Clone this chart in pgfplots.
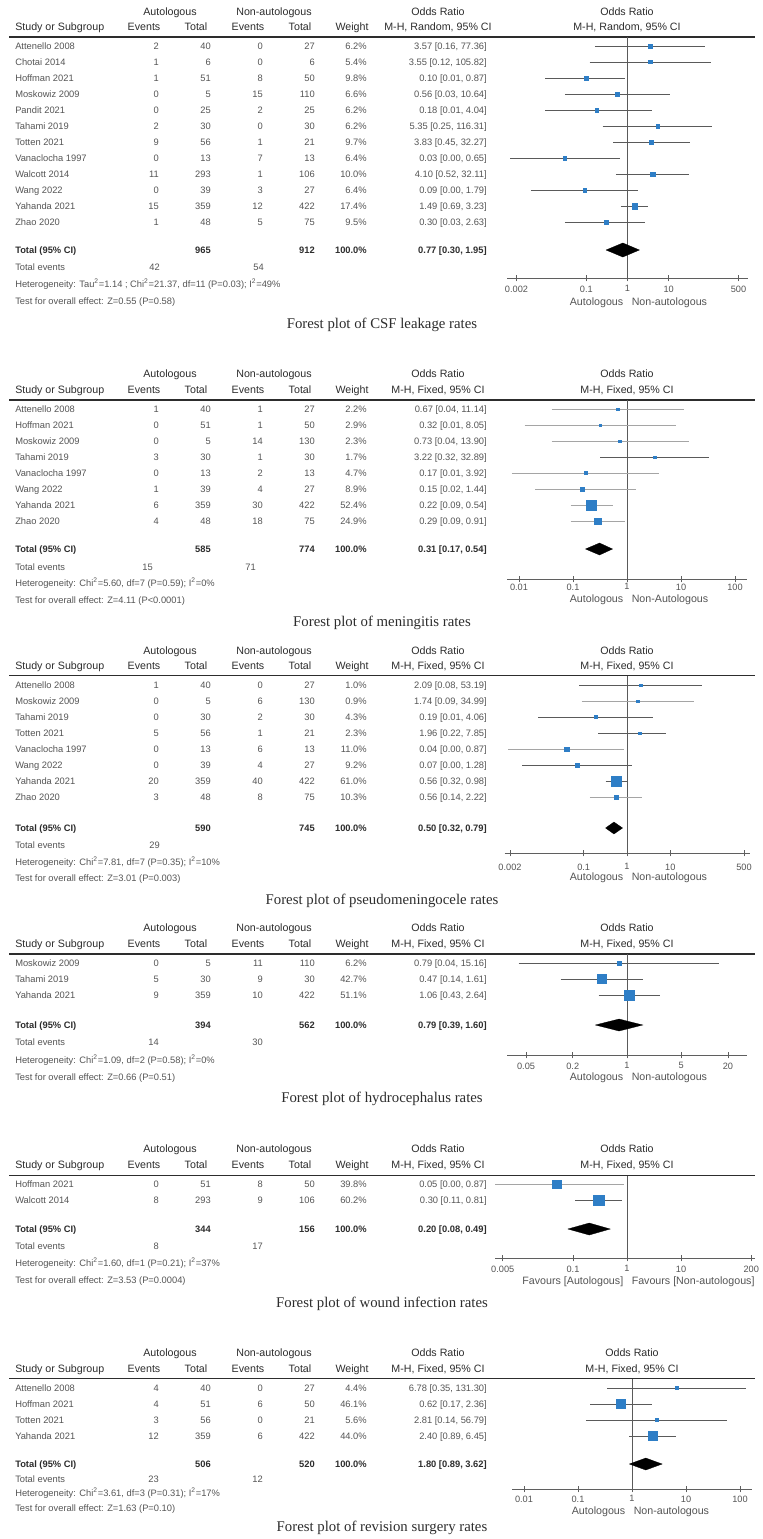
\documentclass[border=0pt]{standalone}
\usepackage{pgfplots}
\usepackage{pgfplotstable}
\pgfplotsset{compat=1.18}
\usepackage{fontspec}
\setmainfont{Liberation Sans}
\newfontfamily\capfont{Liberation Serif}
\definecolor{txt}{RGB}{85,85,85}
\definecolor{hdr}{RGB}{45,45,45}
\definecolor{sq}{RGB}{46,126,198}
\definecolor{cid}{RGB}{90,90,90}
\definecolor{cil}{RGB}{165,165,165}
\definecolor{axc}{RGB}{95,95,95}
\newcommand\fR{\fontsize{7}{8}\selectfont}
\newcommand\fH{\fontsize{8}{9}\selectfont}
\newcommand\fT{\fontsize{6.9}{8}\selectfont}
\newcommand\fC{\capfont\fontsize{11.1}{13}\selectfont}

% ---------------- data: OR, row, weight ----------------
\pgfplotstableread{
or y w
3.57 -1 6.2
3.55 -2 5.4
0.10 -3 9.8
0.56 -4 6.6
0.18 -5 6.2
5.35 -6 6.2
3.83 -7 9.7
0.03 -8 6.4
4.10 -9 10.0
0.09 -10 6.4
1.49 -11 17.4
0.30 -12 9.5
}\tA
\pgfplotstableread{
or y w
0.67 -1 2.2
0.32 -2 2.9
0.73 -3 2.3
3.22 -4 1.7
0.17 -5 4.7
0.15 -6 8.9
0.22 -7 52.4
0.29 -8 24.9
}\tB
\pgfplotstableread{
or y w
2.09 -1 1.0
1.74 -2 0.9
0.19 -3 4.3
1.96 -4 2.3
0.04 -5 11.0
0.07 -6 9.2
0.56 -7 61.0
0.56 -8 10.3
}\tC
\pgfplotstableread{
or y w
0.79 -1 6.2
0.47 -2 42.7
1.06 -3 51.1
}\tD
\pgfplotstableread{
or y w
0.05 -1 39.8
0.30 -2 60.2
}\tE
\pgfplotstableread{
or y w
6.78 -1 4.4
0.62 -2 46.1
2.81 -3 5.6
2.40 -4 44.0
}\tF

\pgfplotsset{
  fpstyle/.style={
    scale only axis,
    axis x line*=bottom, axis y line=none, ytick=\empty,
    axis line style={draw=axc, line width=0.6pt},
    tick align=center, major tick length=5pt, xminorticks=false,
    every tick/.style={draw=axc, line width=0.6pt},
    xticklabel style={font=\fT, text=txt, inner sep=0pt, anchor=north, yshift=#1},
  },
  vl/.style={draw=cid, line width=0.6pt},
  ci/.style={draw=cid, line width=0.7pt},
  cl/.style={draw=cil, line width=0.7pt},
  dia/.style={fill=black, draw=black, line width=0.2pt},
  sqs/.style={only marks, scatter, mark=square*,
    point meta=explicit symbolic,
    scatter/@pre marker code/.code={%
      \pgfmathsetmacro\ms{max(2.6,1.35*sqrt(\pgfplotspointmeta))*0.375}%
      \scope[mark size=\ms pt, draw=sq, fill=sq, line width=0.2pt]},
    scatter/@post marker code/.code={\endscope}},
}

\tikzset{
  R/.style={font=\fR, text=txt, inner sep=0pt},
  B/.style={font=\fR\bfseries, text=hdr, inner sep=0pt},
  H/.style={font=\fH, text=hdr, inner sep=0pt},
  F/.style={font=\fH, text=txt, inner sep=0pt},
  C/.style={font=\fC, text=hdr, inner sep=0pt},
}

\newcommand\Hdr[4]{%
  \node[H,anchor=base] at (170,{#1+3.8}) {Autologous};
  \node[H,anchor=base] at (274,{#1+3.8}) {Non-autologous};
  \node[H,anchor=base] at (438,{#1+3.8}) {Odds Ratio};
  \node[H,anchor=base] at (#4,{#1+3.8}) {Odds Ratio};
  \node[H,anchor=base west] at (15,{#2+3.8}) {Study or Subgroup};
  \node[H,anchor=base] at (144,{#2+3.8}) {Events};
  \node[H,anchor=base] at (196,{#2+3.8}) {Total};
  \node[H,anchor=base] at (248,{#2+3.8}) {Events};
  \node[H,anchor=base] at (300,{#2+3.8}) {Total};
  \node[H,anchor=base] at (352,{#2+3.8}) {Weight};
  \node[H,anchor=base] at (438,{#2+3.8}) {#3};
  \node[H,anchor=base] at (#4,{#2+3.8}) {#3};
}
\newcommand\St[8]{%
  \node[R,anchor=base west] at (15,{#1+3.35}) {#2};
  \node[R,anchor=base east] at (159,{#1+3.35}) {#3};
  \node[R,anchor=base east] at (211,{#1+3.35}) {#4};
  \node[R,anchor=base east] at (263,{#1+3.35}) {#5};
  \node[R,anchor=base east] at (315,{#1+3.35}) {#6};
  \node[R,anchor=base east] at (367,{#1+3.35}) {#7\%};
  \node[R,anchor=base east] at (487,{#1+3.35}) {#8};
}
\newcommand\Tot[4]{%
  \node[B,anchor=base west] at (15,{#1+3.35}) {Total (95\% CI)};
  \node[B,anchor=base east] at (211,{#1+3.35}) {#2};
  \node[B,anchor=base east] at (315,{#1+3.35}) {#3};
  \node[B,anchor=base east] at (367,{#1+3.35}) {100.0\%};
  \node[B,anchor=base east] at (487,{#1+3.35}) {#4};
}
\newcommand\Tev[5]{%
  \node[R,anchor=base west] at (15,{#1+3.35}) {Total events};
  \node[R,anchor=base east] at (#4,{#1+3.35}) {#2};
  \node[R,anchor=base east] at (#5,{#1+3.35}) {#3};
}
\newcommand\Ln[2]{\node[R,anchor=base west] at (15,{#1+3.35}) {#2};}
\newcommand\Fav[4]{%
  \node[F,anchor=base east] at ({#2-3.5},{#1+3.8}) {#3};
  \node[F,anchor=base west] at ({#2+4.5},{#1+3.8}) {#4};
}
\newcommand\Cap[2]{\node[C,anchor=base] at (382,{#1+4.9}) {#2};}
\newcommand\HL[1]{\draw[line width=1pt,hdr] (9,#1)--(755,#1);}
\newcommand\sq{\textsuperscript{2}}

\begin{document}
\begin{tikzpicture}
\begin{scope}[x=0.75pt,y=-0.75pt]
\useasboundingbox (0,0) rectangle (763,1539);
\fill[white] (0,0) rectangle (763,1539);

% ===== Panel 1 =====
\Hdr{12}{27}{M-H, Random, 95\% CI}{627}
\HL{37}
\St{46}{Attenello 2008}{2}{40}{0}{27}{6.2}{3.57 [0.16, 77.36]}
\St{62}{Chotai 2014}{1}{6}{0}{6}{5.4}{3.55 [0.12, 105.82]}
\St{78}{Hoffman 2021}{1}{51}{8}{50}{9.8}{0.10 [0.01, 0.87]}
\St{94}{Moskowiz 2009}{0}{5}{15}{110}{6.6}{0.56 [0.03, 10.64]}
\St{110}{Pandit 2021}{0}{25}{2}{25}{6.2}{0.18 [0.01, 4.04]}
\St{126}{Tahami 2019}{2}{30}{0}{30}{6.2}{5.35 [0.25, 116.31]}
\St{142}{Totten 2021}{9}{56}{1}{21}{9.7}{3.83 [0.45, 32.27]}
\St{158}{Vanaclocha 1997}{0}{13}{7}{13}{6.4}{0.03 [0.00, 0.65]}
\St{174}{Walcott 2014}{11}{293}{1}{106}{10.0}{4.10 [0.52, 32.11]}
\St{190}{Wang 2022}{0}{39}{3}{27}{6.4}{0.09 [0.00, 1.79]}
\St{206}{Yahanda 2021}{15}{359}{12}{422}{17.4}{1.49 [0.69, 3.23]}
\St{222}{Zhao 2020}{1}{48}{5}{75}{9.5}{0.30 [0.03, 2.63]}
\Tot{250}{965}{912}{0.77 [0.30, 1.95]}
\Tev{267}{42}{54}{160}{264}
\Ln{284}{Heterogeneity: Tau\sq=1.14 ; Chi\sq=21.37, df=11 (P=0.03); I\sq=49\%}
\Ln{301}{Test for overall effect: Z=0.55 (P=0.58)}
\Fav{302}{627}{Autologous}{Non-autologous}
\Cap{324}{Forest plot of CSF leakage rates}

% ===== Panel 2 =====
\Hdr{374}{390}{M-H, Fixed, 95\% CI}{627}
\HL{400}
\St{409}{Attenello 2008}{1}{40}{1}{27}{2.2}{0.67 [0.04, 11.14]}
\St{425}{Hoffman 2021}{0}{51}{1}{50}{2.9}{0.32 [0.01, 8.05]}
\St{441}{Moskowiz 2009}{0}{5}{14}{130}{2.3}{0.73 [0.04, 13.90]}
\St{457}{Tahami 2019}{3}{30}{1}{30}{1.7}{3.22 [0.32, 32.89]}
\St{473}{Vanaclocha 1997}{0}{13}{2}{13}{4.7}{0.17 [0.01, 3.92]}
\St{489}{Wang 2022}{1}{39}{4}{27}{8.9}{0.15 [0.02, 1.44]}
\St{505}{Yahanda 2021}{6}{359}{30}{422}{52.4}{0.22 [0.09, 0.54]}
\St{521}{Zhao 2020}{4}{48}{18}{75}{24.9}{0.29 [0.09, 0.91]}
\Tot{549}{585}{774}{0.31 [0.17, 0.54]}
\Tev{567}{15}{71}{153}{256}
\Ln{583}{Heterogeneity: Chi\sq=5.60, df=7 (P=0.59); I\sq=0\%}
\Ln{600}{Test for overall effect: Z=4.11 (P<0.0001)}
\Fav{599}{627}{Autologous}{Non-Autologous}
\Cap{622}{Forest plot of meningitis rates}

% ===== Panel 3 =====
\Hdr{651}{666}{M-H, Fixed, 95\% CI}{627}
\HL{675.5}
\St{685}{Attenello 2008}{1}{40}{0}{27}{1.0}{2.09 [0.08, 53.19]}
\St{701}{Moskowiz 2009}{0}{5}{6}{130}{0.9}{1.74 [0.09, 34.99]}
\St{717}{Tahami 2019}{0}{30}{2}{30}{4.3}{0.19 [0.01, 4.06]}
\St{733}{Totten 2021}{5}{56}{1}{21}{2.3}{1.96 [0.22, 7.85]}
\St{749}{Vanaclocha 1997}{0}{13}{6}{13}{11.0}{0.04 [0.00, 0.87]}
\St{765}{Wang 2022}{0}{39}{4}{27}{9.2}{0.07 [0.00, 1.28]}
\St{781}{Yahanda 2021}{20}{359}{40}{422}{61.0}{0.56 [0.32, 0.98]}
\St{797}{Zhao 2020}{3}{48}{8}{75}{10.3}{0.56 [0.14, 2.22]}
\Tot{828}{590}{745}{0.50 [0.32, 0.79]}
\Tev{845}{29}{}{160}{263}
\Ln{862}{Heterogeneity: Chi\sq=7.81, df=7 (P=0.35); I\sq=10\%}
\Ln{878}{Test for overall effect: Z=3.01 (P=0.003)}
\Fav{877}{627}{Autologous}{Non-autologous}
\Cap{900}{Forest plot of pseudomeningocele rates}

% ===== Panel 4 =====
\Hdr{928}{944}{M-H, Fixed, 95\% CI}{627}
\HL{954}
\St{963}{Moskowiz 2009}{0}{5}{11}{110}{6.2}{0.79 [0.04, 15.16]}
\St{979}{Tahami 2019}{5}{30}{9}{30}{42.7}{0.47 [0.14, 1.61]}
\St{995}{Yahanda 2021}{9}{359}{10}{422}{51.1}{1.06 [0.43, 2.64]}
\Tot{1025}{394}{562}{0.79 [0.39, 1.60]}
\Tev{1042}{14}{30}{159}{263}
\Ln{1060}{Heterogeneity: Chi\sq=1.09, df=2 (P=0.58); I\sq=0\%}
\Ln{1077}{Test for overall effect: Z=0.66 (P=0.51)}
\Fav{1077}{627}{Autologous}{Non-autologous}
\Cap{1098}{Forest plot of hydrocephalus rates}

% ===== Panel 5 =====
\Hdr{1149}{1165}{M-H, Fixed, 95\% CI}{627}
\HL{1175.5}
\St{1184}{Hoffman 2021}{0}{51}{8}{50}{39.8}{0.05 [0.00, 0.87]}
\St{1200}{Walcott 2014}{8}{293}{9}{106}{60.2}{0.30 [0.11, 0.81]}
\Tot{1229}{344}{156}{0.20 [0.08, 0.49]}
\Tev{1246}{8}{17}{159}{263}
\Ln{1263}{Heterogeneity: Chi\sq=1.60, df=1 (P=0.21); I\sq=37\%}
\Ln{1280}{Test for overall effect: Z=3.53 (P=0.0004)}
\Fav{1281}{627}{Favours [Autologous]}{Favours [Non-autologous]}
\Cap{1303}{Forest plot of wound infection rates}

% ===== Panel 6 =====
\Hdr{1353}{1369}{M-H, Fixed, 95\% CI}{632}
\HL{1378.5}
\St{1388}{Attenello 2008}{4}{40}{0}{27}{4.4}{6.78 [0.35, 131.30]}
\St{1404}{Hoffman 2021}{4}{51}{6}{50}{46.1}{0.62 [0.17, 2.36]}
\St{1420}{Totten 2021}{3}{56}{0}{21}{5.6}{2.81 [0.14, 56.79]}
\St{1436}{Yahanda 2021}{12}{359}{6}{422}{44.0}{2.40 [0.89, 6.45]}
\Tot{1464}{506}{520}{1.80 [0.89, 3.62]}
\Tev{1479}{23}{12}{159}{263}
\Ln{1493}{Heterogeneity: Chi\sq=3.61, df=3 (P=0.31); I\sq=17\%}
\Ln{1508}{Test for overall effect: Z=1.63 (P=0.10)}
\Fav{1511}{629}{Autologous}{Non-autologous}
\Cap{1527}{Forest plot of revision surgery rates}
\end{scope}

% ================= forest axes =================
\begin{semilogxaxis}[fpstyle=-3pt, anchor=south west, at={(380.25pt,-208.5pt)}, width=180.75pt, height=180.75pt,
  xmin=0.001175, xmax=851, ymin=-15.5, ymax=-0.4375,
  xtick={0.002,0.1,1,10,500}, xticklabels={0.002,0.1,1,10,500}]
\addplot[vl] coordinates {(1,-15.5) (1,-0.4375)};
\addplot[ci] coordinates {(0.16,-1) (77.36,-1)};
\addplot[ci] coordinates {(0.12,-2) (105.82,-2)};
\addplot[ci] coordinates {(0.01,-3) (0.87,-3)};
\addplot[ci] coordinates {(0.03,-4) (10.64,-4)};
\addplot[ci] coordinates {(0.01,-5) (4.04,-5)};
\addplot[ci] coordinates {(0.25,-6) (116.31,-6)};
\addplot[ci] coordinates {(0.45,-7) (32.27,-7)};
\addplot[ci] coordinates {(0.0014,-8) (0.65,-8)};
\addplot[ci] coordinates {(0.52,-9) (32.11,-9)};
\addplot[ci] coordinates {(0.0045,-10) (1.79,-10)};
\addplot[ci] coordinates {(0.69,-11) (3.23,-11)};
\addplot[ci] coordinates {(0.03,-12) (2.63,-12)};
\addplot[sqs] table[x=or,y=y,meta=w] {\tA};
\addplot[dia] coordinates {(0.30,-13.75) (0.77,-13.31) (1.95,-13.75) (0.77,-14.19) (0.30,-13.75)};
\end{semilogxaxis}

\begin{semilogxaxis}[fpstyle=-0.75pt, anchor=south west, at={(380.25pt,-434.25pt)}, width=180pt, height=134.25pt,
  xmin=0.005995, xmax=166.8, ymin=-11.625, ymax=-0.4375,
  xtick={0.01,0.1,1,10,100}, xticklabels={0.01,0.1,1,10,100}]
\addplot[vl] coordinates {(1,-11.625) (1,-0.4375)};
\addplot[cl] coordinates {(0.04,-1) (11.14,-1)};
\addplot[cl] coordinates {(0.0127,-2) (8.05,-2)};
\addplot[cl] coordinates {(0.04,-3) (13.90,-3)};
\addplot[ci] coordinates {(0.32,-4) (32.89,-4)};
\addplot[cl] coordinates {(0.0074,-5) (3.92,-5)};
\addplot[cl] coordinates {(0.02,-6) (1.44,-6)};
\addplot[cl] coordinates {(0.09,-7) (0.54,-7)};
\addplot[cl] coordinates {(0.09,-8) (0.91,-8)};
\addplot[sqs] table[x=or,y=y,meta=w] {\tB};
\addplot[dia] coordinates {(0.17,-9.75) (0.31,-9.375) (0.54,-9.75) (0.31,-10.125) (0.17,-9.75)};
\end{semilogxaxis}

\begin{semilogxaxis}[fpstyle=-5.25pt, anchor=south west, at={(378.375pt,-639.75pt)}, width=183.75pt, height=133.125pt,
  xmin=0.001493, xmax=669.9, ymin=-11.5, ymax=-0.40625,
  xtick={0.002,0.1,1,10,500}, xticklabels={0.002,0.1,1,10,500}]
\addplot[vl] coordinates {(1,-11.5) (1,-0.40625)};
\addplot[ci] coordinates {(0.08,-1) (53.19,-1)};
\addplot[cl] coordinates {(0.09,-2) (34.99,-2)};
\addplot[ci] coordinates {(0.0089,-3) (4.06,-3)};
\addplot[ci] coordinates {(0.22,-4) (7.85,-4)};
\addplot[cl] coordinates {(0.0018,-5) (0.87,-5)};
\addplot[ci] coordinates {(0.0038,-6) (1.28,-6)};
\addplot[ci] coordinates {(0.32,-7) (0.98,-7)};
\addplot[cl] coordinates {(0.14,-8) (2.22,-8)};
\addplot[sqs] table[x=or,y=y,meta=w] {\tC};
\addplot[dia] coordinates {(0.32,-9.9375) (0.50,-9.5625) (0.79,-9.9375) (0.50,-10.3125) (0.32,-9.9375)};
\end{semilogxaxis}

\begin{semilogxaxis}[fpstyle=-3pt, anchor=south west, at={(380.25pt,-791.25pt)}, width=180pt, height=75.75pt,
  xmin=0.02842, xmax=35.19, ymin=-6.75, ymax=-0.4375,
  xtick={0.05,0.2,1,5,20}, xticklabels={0.05,0.2,1,5,20}]
\addplot[vl] coordinates {(1,-6.75) (1,-0.4375)};
\addplot[ci] coordinates {(0.04,-1) (15.16,-1)};
\addplot[ci] coordinates {(0.14,-2) (1.61,-2)};
\addplot[ci] coordinates {(0.43,-3) (2.64,-3)};
\addplot[sqs] table[x=or,y=y,meta=w] {\tD};
\addplot[dia] coordinates {(0.39,-4.875) (0.79,-4.5) (1.60,-4.875) (0.79,-5.25) (0.39,-4.875)};
\end{semilogxaxis}

\begin{semilogxaxis}[fpstyle=-3pt, anchor=south west, at={(371.25pt,-943.5pt)}, width=195pt, height=61.875pt,
  xmin=0.003594, xmax=234.6, ymin=-5.625, ymax=-0.46875,
  xtick={0.005,0.1,1,10,200}, xticklabels={0.005,0.1,1,10,200}]
\addplot[vl] coordinates {(1,-5.625) (1,-0.46875)};
\addplot[cl] coordinates {(0.0029,-1) (0.87,-1)};
\addplot[ci] coordinates {(0.11,-2) (0.81,-2)};
\addplot[sqs] table[x=or,y=y,meta=w] {\tE};
\addplot[dia] coordinates {(0.08,-3.8125) (0.20,-3.4375) (0.49,-3.8125) (0.20,-4.1875) (0.08,-3.8125)};
\end{semilogxaxis}

\begin{semilogxaxis}[fpstyle=-2.25pt, anchor=south west, at={(384pt,-1116.75pt)}, width=180pt, height=82.875pt,
  xmin=0.005995, xmax=166.8, ymin=-7.3125, ymax=-0.40625,
  xtick={0.01,0.1,1,10,100}, xticklabels={0.01,0.1,1,10,100}]
\addplot[vl] coordinates {(1,-7.3125) (1,-0.40625)};
\addplot[ci] coordinates {(0.35,-1) (131.30,-1)};
\addplot[ci] coordinates {(0.17,-2) (2.36,-2)};
\addplot[ci] coordinates {(0.14,-3) (56.79,-3)};
\addplot[ci] coordinates {(0.89,-4) (6.45,-4)};
\addplot[sqs] table[x=or,y=y,meta=w] {\tF};
\addplot[dia] coordinates {(0.89,-5.75) (1.80,-5.375) (3.62,-5.75) (1.80,-6.125) (0.89,-5.75)};
\end{semilogxaxis}
\end{tikzpicture}
\end{document}
